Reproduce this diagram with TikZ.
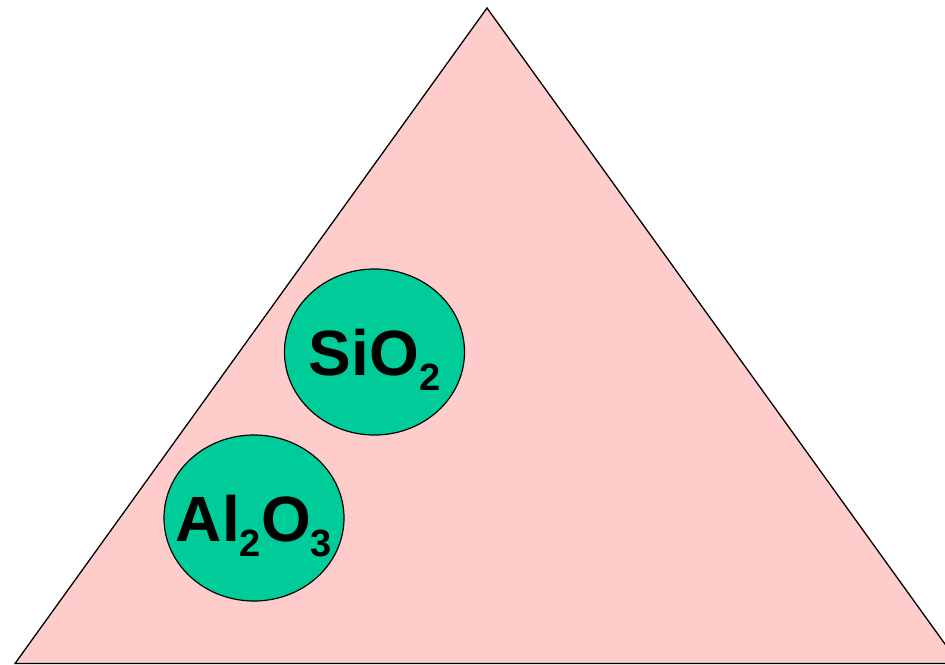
\documentclass[tikz,border=0pt]{standalone}
\usepackage{fontspec}
\setmainfont{Liberation Sans}
\usepackage{tikz}
\usetikzlibrary{shapes.geometric}
\definecolor{trianglepink}{RGB}{255,204,204}
\definecolor{oxidegreen}{RGB}{0,204,153}
\newcommand{\chemsub}[1]{\raisebox{-15pt}{\fontsize{38}{38}\selectfont #1}}
\newcommand{\oxtext}[1]{\makebox[0pt]{#1}}

\begin{document}
\begin{tikzpicture}[x=1pt, y=-1pt,
  oxide/.style={ellipse, draw=black, line width=1.2pt, fill=oxidegreen,
    minimum width=180pt, minimum height=166pt, inner sep=0pt,
    text height=46pt, text depth=0pt, font=\fontsize{64}{64}\selectfont\bfseries}]

\useasboundingbox (0,0) rectangle (945,664);
\clip (0,0) rectangle (945,664);

% the triangle
\coordinate (apex) at (487,8);
\coordinate (left) at (15,663.5);
\coordinate (right) at (959,663.5);
\filldraw[fill=trianglepink, draw=black, line width=1.3pt, line join=miter] (apex) -- (left) -- (right) -- cycle;

% the oxides
\node[oxide] (sio) at (374.5,352) {\oxtext{SiO\chemsub{2}}};
\node[oxide] (alo) at (254,518) {\oxtext{Al\chemsub{2}O\chemsub{3}}};

\end{tikzpicture}
\end{document}
